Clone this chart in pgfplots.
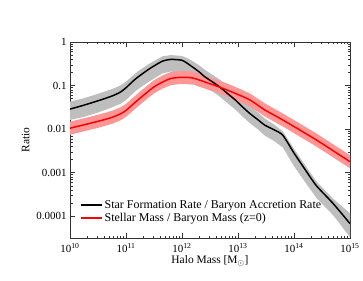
\documentclass[border=0pt]{standalone}
\usepackage{fontspec}
\setmainfont{Liberation Serif}
\usepackage{pgfplots}
\pgfplotsset{compat=1.18}
\definecolor{bandgray}{RGB}{190,190,190}
\definecolor{bandred}{RGB}{255,150,150}
\definecolor{linered}{RGB}{255,0,0}
\begin{document}
\begin{tikzpicture}
\begin{axis}[
  at={(70bp,43bp)}, anchor=south west,
  scale only axis, width=280bp, height=196bp,
  xmode=log, ymode=log,
  xmin=1e10, xmax=1e15, ymin=3.16e-5, ymax=1,
  xtick={1e10,1e11,1e12,1e13,1e14,1e15},
  xticklabels={10\textsuperscript{10},10\textsuperscript{11},10\textsuperscript{12},10\textsuperscript{13},10\textsuperscript{14},10\textsuperscript{15}},
  ytick={1e-4,1e-3,1e-2,1e-1,1},
  yticklabels={0.0001,0.001,0.01,0.1,1},
  tick label style={font=\fontsize{11}{12}\selectfont},
  xticklabel style={yshift=-1.5bp},
  label style={font=\fontsize{11.5}{13}\selectfont},
  xlabel={Halo Mass [M$_\odot$]},
  ylabel={Ratio},
  xlabel style={yshift=3bp},
  tick align=inside,
  major tick length=5bp, minor tick length=2.5bp,
  axis line style={black!80},
  every tick/.style={black!80},
  legend style={at={(0.025,0.2125)}, anchor=north west, draw=none, fill=none,
    font=\fontsize{12}{13}\selectfont, row sep=0pt,
    nodes={text height=8.5bp, text depth=2.5bp, inner ysep=1bp}},
  legend cell align=left,
  legend image code/.code={\draw[#1] (0bp,0bp) -- (21bp,0bp);},
]
% gray band
\addplot[fill=bandgray, draw=none, forget plot] coordinates {
(1e10,0.0427)(1.778e10,0.0513)(3.162e10,0.0646)(5.623e10,0.0832)(7.943e10,0.1)(1e11,0.123)(1.413e11,0.182)(1.778e11,0.229)(2.512e11,0.309)(3.162e11,0.363)(4.467e11,0.468)(6.310e11,0.501)(1e12,0.479)(1.380e12,0.398)(1.995e12,0.295)(2.570e12,0.229)(3.548e12,0.174)(4.786e12,0.135)(6.607e12,0.0955)(8.913e12,0.0692)(1.202e13,0.0479)(1.622e13,0.0339)(2.239e13,0.0245)(3.020e13,0.0174)(4.467e13,0.0126)(6.310e13,0.00891)(1e14,0.00355)(1.585e14,0.00148)(2.512e14,0.000631)(5.012e14,0.000251)(1e15,0.000117)
(1e15,0.0000331)(5.012e14,0.000105)(2.512e14,0.000263)(1.585e14,0.000603)(1e14,0.00141)(6.310e13,0.00380)(4.467e13,0.00525)(3.020e13,0.00708)(2.239e13,0.0100)(1.622e13,0.0138)(1.202e13,0.0195)(8.913e12,0.0282)(6.607e12,0.0389)(4.786e12,0.0550)(3.548e12,0.0724)(2.570e12,0.0955)(1.995e12,0.126)(1.380e12,0.174)(1e12,0.200)(6.310e11,0.209)(4.467e11,0.191)(3.162e11,0.145)(2.512e11,0.120)(1.778e11,0.0891)(1.413e11,0.0708)(1e11,0.0468)(7.943e10,0.0380)(5.623e10,0.0316)(3.162e10,0.0240)(1.778e10,0.0191)(1e10,0.0162)} -- cycle;
% red band
\addplot[fill=bandred, draw=none, forget plot] coordinates {
(1e10,0.0148)(3.162e10,0.0213)(5.623e10,0.0263)(7.943e10,0.0316)(1e11,0.0380)(1.413e11,0.0562)(1.778e11,0.0724)(2.512e11,0.105)(3.162e11,0.132)(4.467e11,0.170)(6.310e11,0.205)(1e12,0.219)(1.585e12,0.209)(3.162e12,0.155)(4.786e12,0.129)(8.913e12,0.0933)(1.622e13,0.0661)(3.020e13,0.0389)(6.310e13,0.0229)(2.512e14,0.00794)(1e15,0.00251)
(1e15,0.00126)(2.512e14,0.00398)(6.310e13,0.0115)(3.020e13,0.0195)(1.622e13,0.0331)(8.913e12,0.0468)(4.786e12,0.0646)(3.162e12,0.0776)(1.585e12,0.105)(1e12,0.110)(6.310e11,0.102)(4.467e11,0.0851)(3.162e11,0.0661)(2.512e11,0.0525)(1.778e11,0.0363)(1.413e11,0.0282)(1e11,0.0191)(7.943e10,0.0159)(5.623e10,0.0132)(3.162e10,0.0107)(1e10,0.00743)} -- cycle;
% lines
\addplot[draw=black, line width=1.5pt, smooth, tension=0.4] coordinates {
(1e10,0.0288)(1.778e10,0.0355)(3.162e10,0.0447)(5.623e10,0.0575)(7.943e10,0.0708)(1e11,0.0891)(1.413e11,0.135)(1.778e11,0.170)(2.512e11,0.234)(3.162e11,0.282)(4.467e11,0.363)(6.310e11,0.398)(1e12,0.380)(1.380e12,0.295)(1.995e12,0.209)(2.570e12,0.158)(3.548e12,0.120)(4.786e12,0.0912)(6.607e12,0.0646)(8.913e12,0.0468)(1.202e13,0.0324)(1.622e13,0.0229)(2.239e13,0.0166)(3.020e13,0.0123)(4.467e13,0.00955)(6.310e13,0.00724)(1e14,0.00282)(1.585e14,0.00117)(2.512e14,0.000501)(5.012e14,0.000195)(1e15,0.0000676)};
\addlegendentry{Star Formation Rate / Baryon Accretion Rate}
\addplot[draw=linered, line width=1.5pt, smooth, tension=0.5] coordinates {
(1e10,0.0105)(3.162e10,0.0151)(5.623e10,0.0186)(7.943e10,0.0224)(1e11,0.0269)(1.413e11,0.0398)(1.778e11,0.0513)(2.512e11,0.0741)(3.162e11,0.0933)(4.467e11,0.120)(6.310e11,0.145)(1e12,0.155)(1.585e12,0.148)(3.162e12,0.110)(4.786e12,0.0912)(8.913e12,0.0661)(1.622e13,0.0468)(3.020e13,0.0275)(6.310e13,0.0162)(2.512e14,0.00562)(1e15,0.00178)};
\addlegendentry{Stellar Mass / Baryon Mass (z=0)}
\end{axis}
\path (0,0) rectangle (363bp,281bp);
\end{tikzpicture}
\end{document}
